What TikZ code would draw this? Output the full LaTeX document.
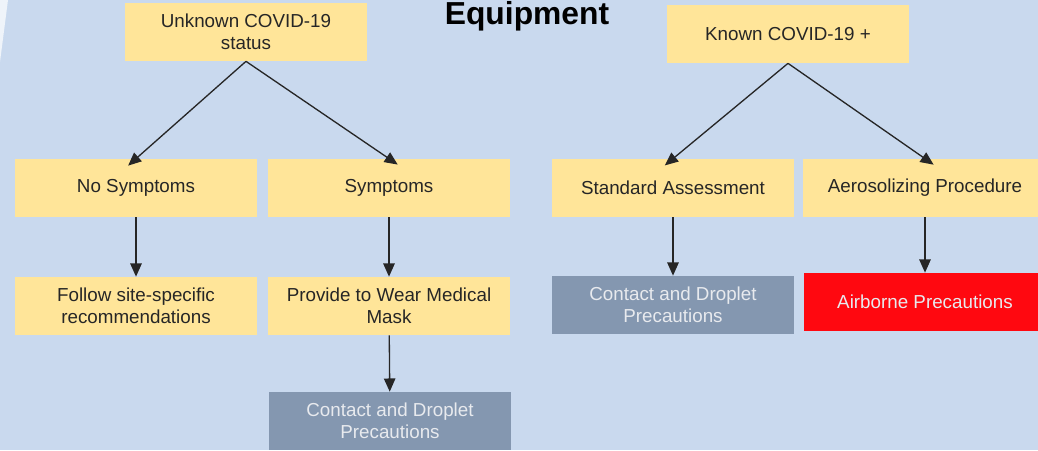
\documentclass[tikz,border=0pt]{standalone}
\usepackage{fontspec}
\setmainfont{Liberation Sans}
\usetikzlibrary{arrows.meta}
\definecolor{bgblue}{RGB}{201,217,238}
\definecolor{boxyellow}{RGB}{255,229,153}
\definecolor{boxgrey}{RGB}{132,151,176}
\definecolor{boxred}{RGB}{255,8,16}
\definecolor{textdark}{RGB}{38,38,38}
\definecolor{textlight}{RGB}{232,234,238}
\tikzset{
    box/.style={
        rectangle,
        minimum width=4.86cm,
        minimum height=1.16cm,
        inner sep=0pt,
        align=center,
        font=\fontsize{10.7}{12.6}\selectfont
    },
    yellowbox/.style={
        box,
        fill=boxyellow,
        text=textdark
    },
    greybox/.style={
        box,
        fill=boxgrey,
        text=textlight
    },
    redbox/.style={
        box,
        fill=boxred,
        text=textlight
    },
    flow/.style={
        -{Triangle[length=7.5pt,width=6.5pt]},
        line width=0.75pt,
        color=black!85
    }
}

\begin{document}
\begin{tikzpicture}[x=0.02cm,y=-0.02cm]
\fill[bgblue] (0,0) rectangle (1038,450);
\fill[white!70!bgblue] (0,0) -- (8,0) -- (0,62) -- cycle;
\useasboundingbox (0,0) rectangle (1038,450);
\node[font=\fontsize{18.1}{20}\selectfont\bfseries] (title) at (527,16) {Equipment};
% unknown status branch
\node[yellowbox] (unk) at (246,32) {Unknown COVID-19\\status};
\node[yellowbox] (nosym) at (136,188) {No Symptoms};
\node[yellowbox] (sym) at (389,188) {Symptoms};
\node[yellowbox] (follow) at (136,306) {Follow site-specific\\recommendations};
\node[yellowbox] (provide) at (389,306) {Provide to Wear Medical\\Mask};
\node[greybox] (cdl) at (390,421) {Contact and Droplet\\Precautions};
% known positive branch
\node[yellowbox] (known) at (788,34) {Known COVID-19 +};
\node[yellowbox] (std) at (673,188) {Standard Assessment};
\node[yellowbox,minimum width=4.88cm] (aero) at (925,188) {Aerosolizing Procedure};
\node[greybox] (cdr) at (673,305) {Contact and Droplet\\Precautions};
\node[redbox] (air) at (925,302) {Airborne Precautions};
\path[flow,shorten >=-6pt]
  (unk.south) edge (nosym.north)
  (unk.south) edge (sym.north)
  (known.south) edge (std.north)
  (known.south) edge (aero.north);
\path[flow]
  (nosym) edge (follow)
  (sym) edge (provide)
  (provide) edge (cdl)
  (std) edge (cdr)
  (aero) edge (air);
\end{tikzpicture}
\end{document}
